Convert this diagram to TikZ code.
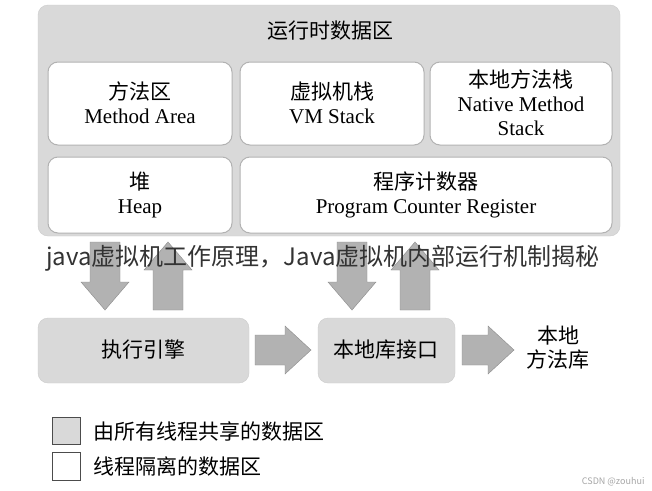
\documentclass[tikz,border=0pt]{standalone}
\usepackage{fontspec}
\setmainfont{Liberation Serif}
\newfontfamily\cjk{Noto Sans CJK SC}
\begin{document}
\begin{tikzpicture} [
                x=1pt,y=-1pt,
                area/.style={rounded corners=10pt,fill=white,draw=black!30,line width=1pt},
                sharedbox/.style={rounded corners=10pt,fill=black!15,draw=black!20},
                blockarrow/.style={fill=black!30,draw=black!45},
                label/.style={font=\fontsize{21}{24}\selectfont,align=center},
            ]
            \useasboundingbox (0,0) rectangle (652,490);
            \fill[white] (0,0) rectangle (652,490);
            \draw[sharedbox] (38,5) rectangle (620,236);
            \node[label] (title) at (330,31) {\cjk 运行时数据区};
            \foreach \x/\y/\w/\h/\name in {
                    48/62/184/83/ma, 240/62/184/83/vms, 430/62/182/83/nms, 48/157/184/76/heap, 240/157/372/76/pc}
                \draw[area] (\x,\y) rectangle ++(\w,\h) coordinate (\name);
            \node[label] (mat) at (140,103) {{\cjk 方法区}\\Method Area};
            \node[label] (vmst) at (332,103) {{\cjk 虚拟机栈}\\VM Stack};
            \node[label] (nmst) at (521,103) {{\cjk 本地方法栈}\\Native Method\\Stack};
            \node[label] (heapt) at (140,195) {{\cjk 堆}\\Heap};
            \node[label] (pct) at (426,195) {{\cjk 程序计数器}\\Program Counter Register};
            % vertical block arrows: centre x / direction
            \foreach \x/\d in {105/1, 168/-1, 352/1, 415/-1}
                \draw[blockarrow] (\x,276) ++(-15,-34*\d) -- ++(0,40*\d) -- ++(-9,0) -- ++(24,28*\d)
                    -- ++(24,-28*\d) -- ++(-9,0) -- ++(0,-40*\d) -- cycle;
            \draw[sharedbox] (38,318) rectangle (249,383);
            \node[label] (ee) at (143,350) {\cjk 执行引擎};
            \draw[sharedbox] (318,318) rectangle (455,383);
            \node[label] (nli) at (386,350) {\cjk 本地库接口};
            % horizontal block arrows
            \foreach \x/\l in {255/56, 462/52}
                \draw[blockarrow] (\x,335) -- ++(\l-26,0) -- ++(0,-9) -- ++(26,24) -- ++(-26,24)
                    -- ++(0,-9) -- ++(-\l+26,0) -- cycle;
            \node[label] (nml) at (558,348) {\cjk 本地\\\cjk 方法库};
            \draw[fill=black!15,draw=black!70,line width=1pt] (52,417) rectangle (80,444) coordinate (leg1);
            \draw[fill=white,draw=black!70,line width=1pt] (52,452) rectangle (80,480) coordinate (leg2);
            \node[label,anchor=west] (lt1) at (90,431) {\cjk 由所有线程共享的数据区};
            \node[label,anchor=west] (lt2) at (90,466) {\cjk 线程隔离的数据区};
            \node[font=\fontsize{24}{26}\selectfont\cjk,text=black!80] (wm) at (323,258) {java虚拟机工作原理，Java虚拟机内部运行机制揭秘};
            \node[font=\fontsize{9}{10}\selectfont\cjk,text=black!35,anchor=east] (csdn) at (648,482) {CSDN @zouhui};
        \end{tikzpicture}
\end{document}
